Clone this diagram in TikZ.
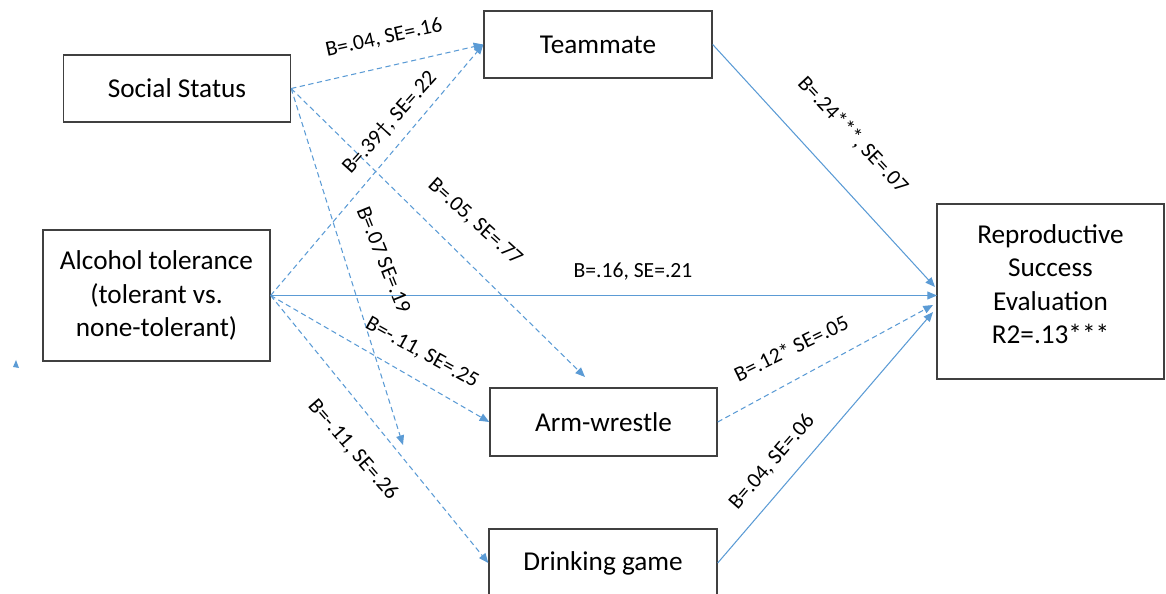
\documentclass[tikz,border=0pt]{standalone}
\usepackage{fontspec}
\setmainfont{Carlito}
\usetikzlibrary{arrows.meta}
\definecolor{pathblue}{HTML}{5B9BD5}
\definecolor{boxgray}{HTML}{404040}

\begin{document}
\begin{tikzpicture}[x=0.02cm, y=-0.02cm,
  box/.style={shape=rectangle, draw=boxgray, line width=0.8pt, minimum width=4.54cm, inner sep=0pt, align=center, font=\fontsize{15.5}{19}\selectfont},
  sig/.style={color=pathblue, line width=0.6pt, -{Triangle[length=5.5pt, width=4.5pt]}},
  nonsig/.style={sig, dash pattern=on 3pt off 2pt},
  lbl/.style={inner sep=1pt, font=\fontsize{12.3}{14}\selectfont}]
\useasboundingbox (0,0) rectangle (1166,594);
\node[box, minimum height=1.34cm] (ss) at (177,88.5) {Social Status};
\node[box, minimum height=2.62cm] (at) at (156.5,295.5) {Alcohol tolerance\\(tolerant vs.\\none-tolerant)};
\node[box, minimum height=1.34cm, minimum width=4.56cm] (tm) at (598,44.5) {Teammate};
\node[box, minimum height=3.5cm, text depth=0.3cm] (rs) at (1050.5,291.5) {Reproductive\\Success\\Evaluation\\R2=.13***};
\node[box, minimum height=1.36cm] (aw) at (603.5,422) {Arm-wrestle};
\node[box, minimum height=1.36cm, minimum width=4.56cm] (dg) at (603,563) {Drinking game};
% free ends of the arrows
\coordinate (awtop) at (585,377);
\coordinate (dgend) at (403,445);
\coordinate (rs1) at (935,287);
\coordinate (rs2) at (937,295.5);
\coordinate (rs3) at (933,305);
\coordinate (rs4) at (933,312);
\path (ss.east) edge[nonsig] (tm.west);
\path (ss.east) edge[nonsig] (awtop);
\path (ss.east) edge[nonsig] (dgend);
\path (at.east) edge[nonsig] (tm.west);
\path (at.east) edge[sig] (rs2);
\path (at.east) edge[nonsig] (aw.west);
\path (at.east) edge[nonsig] (dg.west);
\path (tm.east) edge[sig] (rs1);
\path (aw.east) edge[nonsig] (rs3);
\path (dg.east) edge[sig] (rs4);
% coefficients
\node[lbl, rotate=12.5] (l1) at (384,38) {B=.04, SE=.16};
\node[lbl, rotate=48] (l2) at (390,123) {B=.39\textdagger, SE=.22};
\node[lbl, rotate=-42] (l3) at (475,222) {B=.05, SE=.77};
\node[lbl, rotate=-68] (l4) at (384,260) {B=.07 SE=.19};
\node[lbl] (l5) at (633,272) {B=.16, SE=.21};
\node[lbl, rotate=-29] (l6) at (422,353) {B=-.11, SE=.25};
\node[lbl, rotate=-49] (l7) at (353,450) {B=-.11, SE=.26};
\node[lbl, rotate=-47] (l8) at (853,135) {B=.24***, SE=.07};
\node[lbl, rotate=26] (l9) at (791,348) {B=.12* SE=.05};
\node[lbl, rotate=49] (l10) at (772,462) {B=.04, SE=.06};
% stray tip
\fill[pathblue] (13,367) -- (19,368) -- (16,360) -- cycle;
\end{tikzpicture}
\end{document}
